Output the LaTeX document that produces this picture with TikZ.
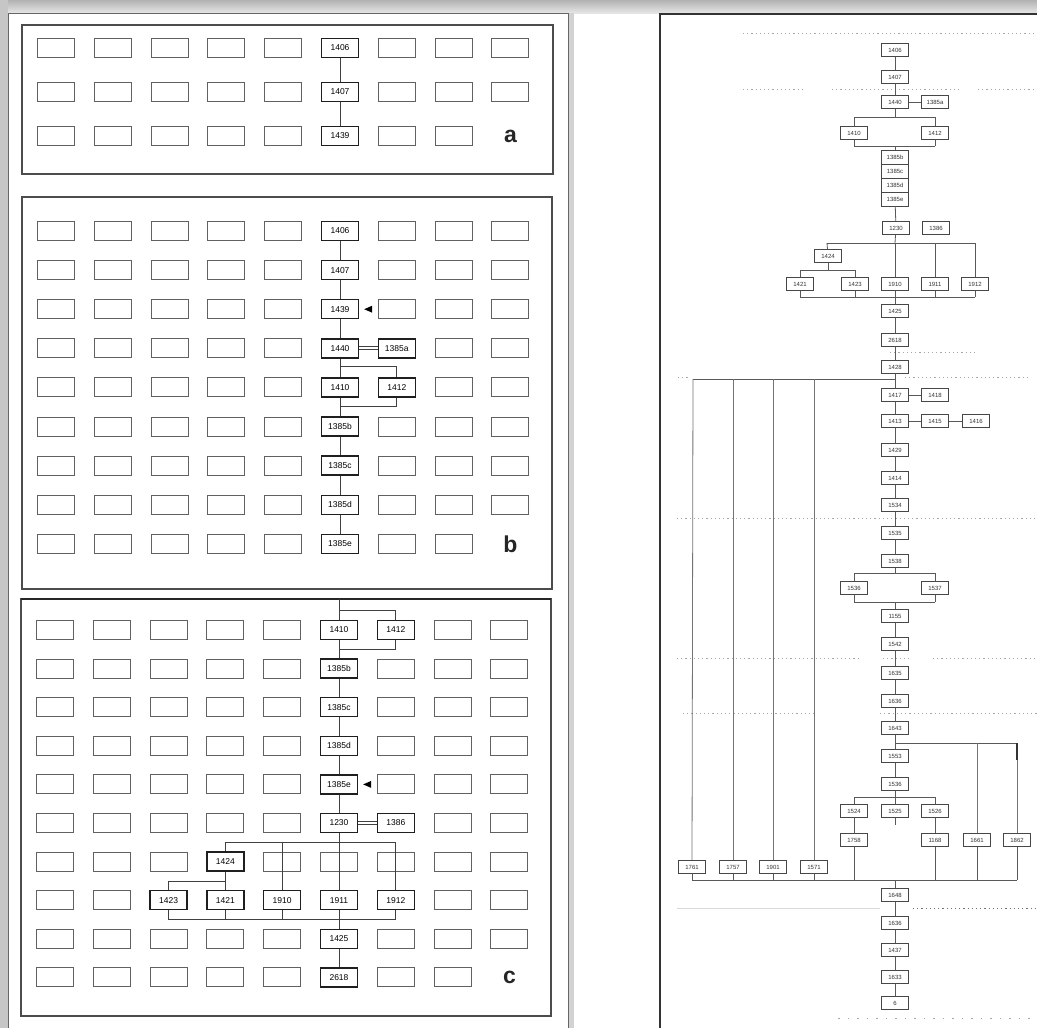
\documentclass[tikz,border=0pt]{standalone}
\usepackage{fontspec}
\setsansfont{Liberation Sans}
\begin{document}
\begin{tikzpicture}[x=1pt,y=-1pt,
  cell/.style={draw=black!62, line width=1pt, minimum width=37pt, minimum height=19pt, inner sep=0pt},
  lab/.style={cell, draw=black!88, line width=1.4pt, fill=white, font=\sffamily\fontsize{8.5}{9}\selectfont},
  conn/.style={draw=black!75, line width=1pt},
  dbl/.style={draw=black!75, line width=0.8pt, double, double distance=2.2pt},
  pframe/.style={draw=black!70, line width=1.3pt},
  plabel/.style={font=\sffamily\bfseries\fontsize{23}{23}\selectfont, text=black!85, inner sep=0pt},
  pointer/.style={fill=black},
  rbox/.style={draw=black!72, line width=0.9pt, fill=white, minimum width=27pt, minimum height=13pt, inner sep=0pt, font=\sffamily\fontsize{6}{6}\selectfont, text=black!80},
  rstack/.style={rbox, minimum height=14pt},
  rconn/.style={draw=black!65, line width=0.8pt},
  rlong/.style={draw=black!55, line width=0.8pt},
  phase/.style={draw=black!35, line width=1pt, dash pattern=on 1.2pt off 3pt}
]
\useasboundingbox (0,0) rectangle (1037,1028);
\fill[white] (0,0) rectangle (1037,1028);
% shadows / card
\shade[top color=gray!60, bottom color=gray!20] (0,0) rectangle (1037,13);
\fill[gray!45] (0,0) rectangle (8,1028);
\fill[gray!35] (568,13) rectangle (574,1028);
\draw[black!60, line width=0.8pt] (8,1030) -- (8,13) -- (568,13) -- (568,1030);

% ================= panel a =================
\draw[pframe] (22,25) rectangle (553,174);
\foreach \r/\yy in {1/48,2/92,3/136}{
 \foreach \c in {1,...,9}{
  \pgfmathtruncatemacro\myskip{(\c==6)||(\r==3 && \c==9)}
  \ifnum\myskip=0 \node[cell] (a-\r-\c) at ({56+56.8*(\c-1)},\yy) {};\fi
 }}
\node[lab] (a1406) at (340,48) {1406};
\node[lab] (a1407) at (340,92) {1407};
\node[lab] (a1439) at (340,136) {1439};
\node[plabel] (alab) at (510.4,136) {a};
\draw[conn] (a1406) -- (a1407);
\draw[conn] (a1407) -- (a1439);

% ================= panel b =================
\draw[pframe] (22,197) rectangle (552,589);
\foreach \r in {1,...,9}{
 \foreach \c in {1,...,9}{
  \pgfmathtruncatemacro\myskip{(\c==6)||(\r==4 && \c==7)||(\r==5 && \c==7)||(\r==9 && \c==9)}
  \ifnum\myskip=0 \node[cell] (b-\r-\c) at ({56+56.8*(\c-1)},{231+39.1*(\r-1)}) {};\fi
 }}
\node[lab] (b1406) at (340,231) {1406};
\node[lab] (b1407) at (340,270.1) {1407};
\node[lab] (b1439) at (340,309.2) {1439};
\node[lab] (b1440) at (340,348.3) {1440};
\node[lab] (b1385a) at (396.8,348.3) {1385a};
\node[lab] (b1410) at (340,387.4) {1410};
\node[lab] (b1412) at (396.8,387.4) {1412};
\node[lab] (b1385b) at (340,426.5) {1385b};
\node[lab] (b1385c) at (340,465.6) {1385c};
\node[lab] (b1385d) at (340,504.7) {1385d};
\node[lab] (b1385e) at (340,543.8) {1385e};
\node[plabel] (blab) at (510.4,543.8) {b};
\draw[conn] (b1406) -- (b1407);
\draw[conn] (b1407) -- (b1439);
\draw[conn] (b1439) -- (b1440);
\draw[dbl] (b1440) -- (b1385a);
\coordinate (barr) at ([xshift=5pt]b1439.east);
\fill[pointer] (barr) -- ++(8,-3.5) -- ++(0,7) -- cycle;
\coordinate (bt6) at (340,366);
\coordinate (bt7) at (396.8,366);
\coordinate (bb6) at (340,406.5);
\coordinate (bb7) at (396.8,406.5);
\draw[conn] (b1440) -- (b1410);
\draw[conn] (bt6) -- (bt7) -- (b1412);
\draw[conn] (b1412) -- (bb7) -- (bb6);
\draw[conn] (b1410) -- (b1385b);
\draw[conn] (b1385b) -- (b1385c);
\draw[conn] (b1385c) -- (b1385d);
\draw[conn] (b1385d) -- (b1385e);

% ================= panel c =================
\draw[pframe] (21,599) rectangle (551,1016);
\draw[black!85, line width=2pt] (21,599) -- (551,599);
\foreach \r in {1,...,10}{
 \foreach \c in {1,...,9}{
  \pgfmathtruncatemacro\myskip{(\c==6 && \r!=7)||(\r==1 && \c==7)||(\r==6 && \c==7)||(\r==7 && \c==4)||(\r==8 && \c>2 && \c<8)||(\r==10 && \c==9)}
  \ifnum\myskip=0 \node[cell] (c-\r-\c) at ({55+56.8*(\c-1)},{630+38.6*(\r-1)}) {};\fi
 }}
\node[lab] (c1410) at (339,630) {1410};
\node[lab] (c1412) at (395.8,630) {1412};
\node[lab] (c1385b) at (339,668.6) {1385b};
\node[lab] (c1385c) at (339,707.2) {1385c};
\node[lab] (c1385d) at (339,745.8) {1385d};
\node[lab] (c1385e) at (339,784.4) {1385e};
\node[lab] (c1230) at (339,823) {1230};
\node[lab] (c1386) at (395.8,823) {1386};
\node[lab] (c1424) at (225.4,861.6) {1424};
\node[lab] (c1423) at (168.6,900.2) {1423};
\node[lab] (c1421) at (225.4,900.2) {1421};
\node[lab] (c1910) at (282.2,900.2) {1910};
\node[lab] (c1911) at (339,900.2) {1911};
\node[lab] (c1912) at (395.8,900.2) {1912};
\node[lab] (c1425) at (339,938.8) {1425};
\node[lab] (c2618) at (339,977.4) {2618};
\node[plabel] (clab) at (509.4,977.4) {c};
\coordinate (ctop) at (339,599);
\coordinate (ct6) at (339,610);
\coordinate (ct7) at (395.8,610);
\coordinate (cb6) at (339,649.5);
\coordinate (cb7) at (395.8,649.5);
\draw[conn] (ctop) -- (c1410);
\draw[conn] (ct6) -- (ct7) -- (c1412);
\draw[conn] (c1412) -- (cb7) -- (cb6);
\draw[conn] (c1410) -- (c1385b);
\draw[conn] (c1385b) -- (c1385c);
\draw[conn] (c1385c) -- (c1385d);
\draw[conn] (c1385d) -- (c1385e);
\draw[conn] (c1385e) -- (c1230);
\coordinate (carr) at ([xshift=5pt]c1385e.east);
\fill[pointer] (carr) -- ++(8,-3.5) -- ++(0,7) -- cycle;
\draw[dbl] (c1230) -- (c1386);
\coordinate (ch4) at (225.4,842);
\coordinate (ch5) at (282.2,842);
\coordinate (ch7) at (395.8,842);
\draw[conn] (c1230) -- (c1911);
\draw[conn] (ch4) -- (ch7);
\draw[conn] (ch4) -- (c1424);
\draw[conn] (ch5) -- (c1910);
\draw[conn] (ch7) -- (c1912);
\coordinate (ck3) at (168.6,881);
\coordinate (ck4) at (225.4,881);
\draw[conn] (c1424) -- (ck4);
\draw[conn] (ck3) -- (ck4);
\draw[conn] (ck3) -- (c1423);
\draw[conn] (ck4) -- (c1421);
\coordinate (cm3) at (168.6,919.5);
\coordinate (cm4) at (225.4,919.5);
\coordinate (cm5) at (282.2,919.5);
\coordinate (cm7) at (395.8,919.5);
\draw[conn] (c1423) -- (cm3) -- (cm7);
\draw[conn] (c1421) -- (cm4);
\draw[conn] (c1910) -- (cm5);
\draw[conn] (c1912) -- (cm7);
\draw[conn] (c1911) -- (c1425);
\draw[conn] (c1425) -- (c2618);

% ================= right panel =================
\draw[black!80, line width=1.6pt] (660,1028) -- (660,14) -- (1037,14);
% phase lines
\draw[phase] (743,33) -- (1037,33);
\draw[phase] (743,89) -- (803,89);
\draw[phase] (832,89) -- (960,89);
\draw[phase] (978,89) -- (1037,89);
\draw[phase] (890,352) -- (978,352);
\draw[phase] (678,377) -- (690,377);
\draw[phase] (905,377) -- (1030,377);
\draw[phase] (677,518) -- (1037,518);
\draw[phase] (677,658) -- (860,658);
\draw[phase] (883,658) -- (910,658);
\draw[phase] (933,658) -- (1037,658);
\draw[phase] (683,713) -- (817,713);
\draw[phase] (880,713) -- (1037,713);
\draw[black!15, line width=1pt] (677,908) -- (880,908);
\draw[phase, draw=black!55] (913,908) -- (1037,908);
\draw[phase, dash pattern=on 1.5pt off 8pt] (838,1018) -- (1037,1018);

% nodes
\node[rbox] (r1406) at (895,50) {1406};
\node[rbox] (r1407) at (895,77) {1407};
\node[rbox] (r1440) at (895,102) {1440};
\node[rbox] (r1385a) at (935,102) {1385a};
\node[rbox] (r1410) at (854,133) {1410};
\node[rbox] (r1412) at (935,133) {1412};
\node[rstack] (r1385b) at (895,157) {1385b};
\node[rstack] (r1385c) at (895,171) {1385c};
\node[rstack] (r1385d) at (895,185) {1385d};
\node[rstack] (r1385e) at (895,199) {1385e};
\node[rbox] (r1230) at (896,228) {1230};
\node[rbox] (r1386) at (936,228) {1386};
\node[rbox] (r1424) at (828,256) {1424};
\node[rbox] (r1421) at (800,284) {1421};
\node[rbox] (r1423) at (855,284) {1423};
\node[rbox] (r1910) at (895,284) {1910};
\node[rbox] (r1911) at (935,284) {1911};
\node[rbox] (r1912) at (975,284) {1912};
\node[rbox] (r1425) at (895,311) {1425};
\node[rbox] (r2618) at (895,340) {2618};
\node[rbox] (r1428) at (895,367) {1428};
\node[rbox] (r1417) at (895,395) {1417};
\node[rbox] (r1418) at (935,395) {1418};
\node[rbox] (r1413) at (895,421) {1413};
\node[rbox] (r1415) at (935,421) {1415};
\node[rbox] (r1416) at (976,421) {1416};
\node[rbox] (r1429) at (895,450) {1429};
\node[rbox] (r1414) at (895,478) {1414};
\node[rbox] (r1534) at (895,505) {1534};
\node[rbox] (r1535) at (895,533) {1535};
\node[rbox] (r1538) at (895,561) {1538};
\node[rbox] (r1536) at (854,588) {1536};
\node[rbox] (r1537) at (935,588) {1537};
\node[rbox] (r1155) at (895,616) {1155};
\node[rbox] (r1542) at (895,644) {1542};
\node[rbox] (r1635) at (895,673) {1635};
\node[rbox] (r1636) at (895,701) {1636};
\node[rbox] (r1643) at (895,728) {1643};
\node[rbox] (r1553) at (895,756) {1553};
\node[rbox] (r1536b) at (895,784) {1536};
\node[rbox] (r1524) at (854,811) {1524};
\node[rbox] (r1525) at (895,811) {1525};
\node[rbox] (r1526) at (935,811) {1526};
\node[rbox] (r1758) at (854,840) {1758};
\node[rbox] (r1168) at (935,840) {1168};
\node[rbox] (r1661) at (977,840) {1661};
\node[rbox] (r1862) at (1017,840) {1862};
\node[rbox] (r1761) at (692,867) {1761};
\node[rbox] (r1757) at (733,867) {1757};
\node[rbox] (r1901) at (773,867) {1901};
\node[rbox] (r1571) at (814,867) {1571};
\node[rbox] (r1648) at (895,895) {1648};
\node[rbox] (r1636b) at (895,923) {1636};
\node[rbox] (r1437) at (895,950) {1437};
\node[rbox] (r1633) at (895,977) {1633};
\node[rbox] (r6) at (895,1003) {6};

% connectors
\draw[rconn] (r1406) -- (r1407);
\draw[rconn] (r1407) -- (r1440);
\draw[rconn] (r1440) -- (r1385a);
\coordinate (rt0) at (895,117);
\coordinate (rtl) at (854,117);
\coordinate (rtr) at (935,117);
\coordinate (rb0) at (895,146);
\coordinate (rbl) at (854,146);
\coordinate (rbr) at (935,146);
\draw[rconn] (r1440) -- (rt0);
\draw[rconn] (rtl) -- (rtr);
\draw[rconn] (rtl) -- (r1410);
\draw[rconn] (rtr) -- (r1412);
\draw[rconn] (r1410) -- (rbl) -- (rbr);
\draw[rconn] (r1412) -- (rbr);
\draw[rconn] (rb0) -- (r1385b);
\draw[rconn] (r1385e) -- (r1230);
\coordinate (rh0) at (895,243);
\coordinate (rhl) at (827,243);
\coordinate (rh3) at (935,243);
\coordinate (rhr) at (975,243);
\draw[rconn] (r1230) -- (rh0);
\draw[rconn] (rhl) -- (rhr);
\draw[rconn] (rhl) -- (r1424);
\draw[rconn] (rh0) -- (r1910);
\draw[rconn] (rh3) -- (r1911);
\draw[rconn] (rhr) -- (r1912);
\coordinate (rk0) at (828,270);
\coordinate (rkl) at (800,270);
\coordinate (rkr) at (855,270);
\draw[rconn] (r1424) -- (rk0);
\draw[rconn] (rkl) -- (rkr);
\draw[rconn] (rkl) -- (r1421);
\draw[rconn] (rkr) -- (r1423);
\coordinate (rm1) at (800,297);
\coordinate (rm2) at (855,297);
\coordinate (rm3) at (895,297);
\coordinate (rm4) at (935,297);
\coordinate (rm5) at (975,297);
\draw[rconn] (rm1) -- (rm5);
\draw[rconn] (r1421) -- (rm1);
\draw[rconn] (r1423) -- (rm2);
\draw[rconn] (r1910) -- (rm3);
\draw[rconn] (r1911) -- (rm4);
\draw[rconn] (r1912) -- (rm5);
\draw[rconn] (rm3) -- (r1425);
\draw[rconn] (r1425) -- (r2618);
\draw[rconn] (r2618) -- (r1428);
\draw[rconn] (r1428) -- (r1417);
\coordinate (rl0) at (895,379);
\coordinate (rl1) at (693,379);
\coordinate (rl2) at (733,379);
\coordinate (rl3) at (773,379);
\coordinate (rl4) at (814,379);
\draw[rconn] (rl1) -- (rl0);
\draw[rlong] (rl1) -- (r1761);
\draw[rlong] (rl2) -- (r1757);
\draw[rlong] (rl3) -- (r1901);
\draw[rlong] (rl4) -- (r1571);
\draw[rconn] (r1417) -- (r1418);
\draw[rconn] (r1417) -- (r1413);
\draw[rconn] (r1413) -- (r1415);
\draw[rconn] (r1415) -- (r1416);
\draw[rconn] (r1413) -- (r1429);
\draw[rconn] (r1429) -- (r1414);
\draw[rconn] (r1414) -- (r1534);
\draw[rconn] (r1534) -- (r1535);
\draw[rconn] (r1535) -- (r1538);
\coordinate (rp0) at (895,573);
\coordinate (rpl) at (854,573);
\coordinate (rpr) at (935,573);
\coordinate (rq0) at (895,602);
\coordinate (rql) at (854,602);
\coordinate (rqr) at (935,602);
\draw[rconn] (r1538) -- (rp0);
\draw[rconn] (rpl) -- (rpr);
\draw[rconn] (rpl) -- (r1536);
\draw[rconn] (rpr) -- (r1537);
\draw[rconn] (r1536) -- (rql) -- (rqr);
\draw[rconn] (r1537) -- (rqr);
\draw[rconn] (rq0) -- (r1155);
\draw[rconn] (r1155) -- (r1542);
\draw[rconn] (r1542) -- (r1635);
\draw[rconn] (r1635) -- (r1636);
\draw[rconn] (r1636) -- (r1643);
\draw[rconn] (r1643) -- (r1553);
\draw[rconn] (r1553) -- (r1536b);
\coordinate (rn0) at (895,743);
\coordinate (rn1) at (977,743);
\coordinate (rn2) at (1017,743);
\draw[rconn] (rn0) -- (rn2);
\draw[rlong] (rn1) -- (r1661);
\draw[rlong] (rn2) -- (r1862);
\draw[black!80, line width=2pt] (1017,743) -- (1017,760);
\coordinate (rs0) at (895,797);
\coordinate (rsl) at (854,797);
\coordinate (rsr) at (935,797);
\draw[rconn] (r1536b) -- (rs0);
\draw[rconn] (rsl) -- (rsr);
\draw[rconn] (rsl) -- (r1524);
\draw[rconn] (rs0) -- (r1525);
\draw[rconn] (rsr) -- (r1526);
\coordinate (ru0) at (895,825);
\coordinate (rul) at (854,825);
\coordinate (rur) at (935,825);
\draw[rconn, double, double distance=1.5pt, line width=0.6pt] (rul) -- (rur);
\draw[rconn] (r1524) -- (rul);
\draw[rconn] (r1525) -- (ru0);
\draw[rconn] (r1526) -- (rur);
\draw[rconn] (rul) -- (r1758);
\draw[rconn] (rur) -- (r1168);
\coordinate (rv1) at (692,880);
\coordinate (rv2) at (733,880);
\coordinate (rv3) at (773,880);
\coordinate (rv4) at (814,880);
\coordinate (rv5) at (854,880);
\coordinate (rv0) at (895,880);
\coordinate (rv6) at (935,880);
\coordinate (rv7) at (977,880);
\coordinate (rv8) at (1017,880);
\draw[rconn] (rv1) -- (rv8);
\draw[rconn] (r1761) -- (rv1);
\draw[rconn] (r1757) -- (rv2);
\draw[rconn] (r1901) -- (rv3);
\draw[rconn] (r1571) -- (rv4);
\draw[rconn] (r1758) -- (rv5);
\draw[rconn] (r1168) -- (rv6);
\draw[rconn] (r1661) -- (rv7);
\draw[rconn] (r1862) -- (rv8);
\draw[rconn] (rv0) -- (r1648);
\draw[rconn] (r1648) -- (r1636b);
\draw[rconn] (r1636b) -- (r1437);
\draw[rconn] (r1437) -- (r1633);
\draw[rconn] (r1633) -- (r6);
\end{tikzpicture}
\end{document}
